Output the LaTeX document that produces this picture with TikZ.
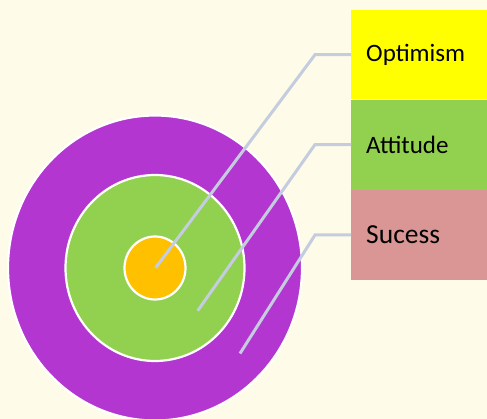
\documentclass[tikz,border=0pt]{standalone}
\usepackage{fontspec}
\setmainfont{Carlito}
\usetikzlibrary{positioning}
\usetikzlibrary{shapes.geometric}
\definecolor{paper}{HTML}{FFFBE9}
\definecolor{ringpurple}{HTML}{B236CF}
\definecolor{ringgreen}{HTML}{92D050}
\definecolor{ringorange}{HTML}{FFC000}
\definecolor{boxyellow}{HTML}{FFFF00}
\definecolor{boxpink}{HTML}{D99694}
\definecolor{leadblue}{HTML}{C3CDDF}
\tikzset{
	ring/.style={
		ellipse,
		draw=white,
		line width=2.2pt,
		inner sep=0pt
	},
	label box/.style={
		rectangle,
		minimum width=136pt,
		minimum height=90pt,
		text width=106pt,
		inner xsep=15pt,
		align=left,
		anchor=north west,
		font=\fontsize{25}{30}\selectfont
	},
	leader/.style={
		draw=leadblue,
		line width=3pt
	}
}
\begin{document}
\begin{tikzpicture}[x=1pt,y=-1pt]
	\fill[paper] (0,0) rectangle (487,419);
	\useasboundingbox (0,0) rectangle (487,419);

	% target rings
	\draw node[ring, fill=ringpurple, minimum width=294pt, minimum height=305pt] (Outer) at (155,268) {};
	\draw node[ring, fill=ringgreen, minimum width=179pt, minimum height=186pt] (Middle) at (155,268) {};
	\draw node[ring, fill=ringorange, minimum width=61pt, minimum height=63pt] (Inner) at (155,268) {};

	% labels on the right
	\draw node[label box, fill=boxyellow, minimum height=89pt] (Optimism) at (351,10) {Optimism};
	\draw node[label box, fill=ringgreen, below=0pt of Optimism.south west, anchor=north west] (Attitude) {Attitude};
	\draw node[label box, fill=boxpink, below=0pt of Attitude.south west, anchor=north west,
		font=\fontsize{27.5}{32}\selectfont] (Sucess) {Sucess};

	% leader lines
	\coordinate (OptimismPin) at (155.7,267.7);
	\coordinate (AttitudePin) at (197.7,310.7);
	\coordinate (SucessPin) at (240,353.5);
	\draw[leader] (OptimismPin) -- ([xshift=-36pt]Optimism.west) -- (Optimism.west);
	\draw[leader] (AttitudePin) -- ([xshift=-36pt]Attitude.west) -- (Attitude.west);
	\draw[leader] (SucessPin) -- ([xshift=-36pt]Sucess.west) -- (Sucess.west);
\end{tikzpicture}
\end{document}
